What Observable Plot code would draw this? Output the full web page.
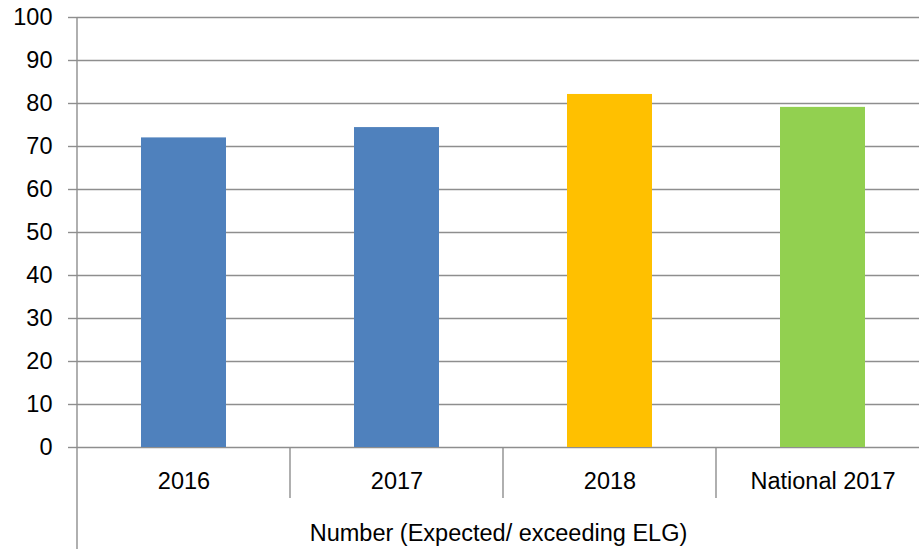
<!DOCTYPE html>
<html>
<head>
<meta charset="utf-8">
<script src="https://cdn.jsdelivr.net/npm/d3@7"></script>
<script src="https://cdn.jsdelivr.net/npm/@observablehq/plot@0.6"></script>
<style>
  html, body { margin: 0; padding: 0; background: #fff; overflow: hidden; }
  #chart svg { display: block; overflow: hidden; }
</style>
</head>
<body>
<div id="chart"></div>
<script>
const categories = ["2016", "2017", "2018", "National 2017"];
const values = [72, 74.4, 82.1, 79.1];
const barColors = ["#4F81BD", "#4F81BD", "#FFC000", "#92D050"];
const yTicks = [0, 10, 20, 30, 40, 50, 60, 70, 80, 90, 100];
const groupLabel = "Number (Expected/ exceeding ELG)";

const data = categories.map((c, i) => ({category: c, value: values[i], color: barColors[i]}));

const gray = "#8e8e8e";
const font = "'Liberation Sans', Arial, sans-serif";
const fs = 23.5;

// category divider lines and extended left axis line, drawn from the band scale
function dividers(index, scales, vals, dims) {
  const x = scales.x, y = scales.y;
  const bw = x.bandwidth();
  const step = x(categories[1]) - x(categories[0]);
  const gap = (step - bw) / 2;
  const g = d3.create("svg:g").attr("stroke", gray).attr("stroke-width", 1.4);
  const left = x(categories[0]) - gap;
  g.append("line").attr("x1", left).attr("x2", left)
    .attr("y1", y(d3.max(yTicks))).attr("y2", dims.height);
  for (let i = 0; i < categories.length - 1; i++) {
    const xb = x(categories[i]) + bw + gap;
    g.append("line").attr("x1", xb).attr("x2", xb)
      .attr("y1", y(0)).attr("y2", y(0) + 51);
  }
  return g.node();
}

const chart = Plot.plot({
  width: 919,
  height: 549,
  marginLeft: 77,
  marginRight: 0,
  marginTop: 17,
  marginBottom: 102,
  style: {fontFamily: font, fontSize: fs + "px", color: "#000", background: "#fff", overflow: "hidden"},
  x: {domain: categories, range: [77, 930], paddingInner: 0.6, paddingOuter: 0.3, label: null},
  y: {domain: [0, 100], label: null},
  color: {type: "identity"},
  marks: [
    Plot.gridY(yTicks, {stroke: gray, strokeOpacity: 1, strokeWidth: 1.4}),
    Plot.barY(data, {x: "category", y: "value", fill: "color"}),
    Plot.axisY(yTicks, {tickSize: 9, tickPadding: 16, stroke: gray, strokeWidth: 1.4, fill: "#000", fontSize: fs, label: null}),
    Plot.axisX({tickSize: 0, tickPadding: 25, fill: "#000", fontSize: fs, label: null}),
    dividers,
    Plot.text([groupLabel], {text: d => d, frameAnchor: "bottom", dy: 85.6, fontSize: fs, fill: "#000", lineAnchor: "middle"})
  ]
});

document.getElementById("chart").appendChild(chart);
</script>
</body>
</html>
